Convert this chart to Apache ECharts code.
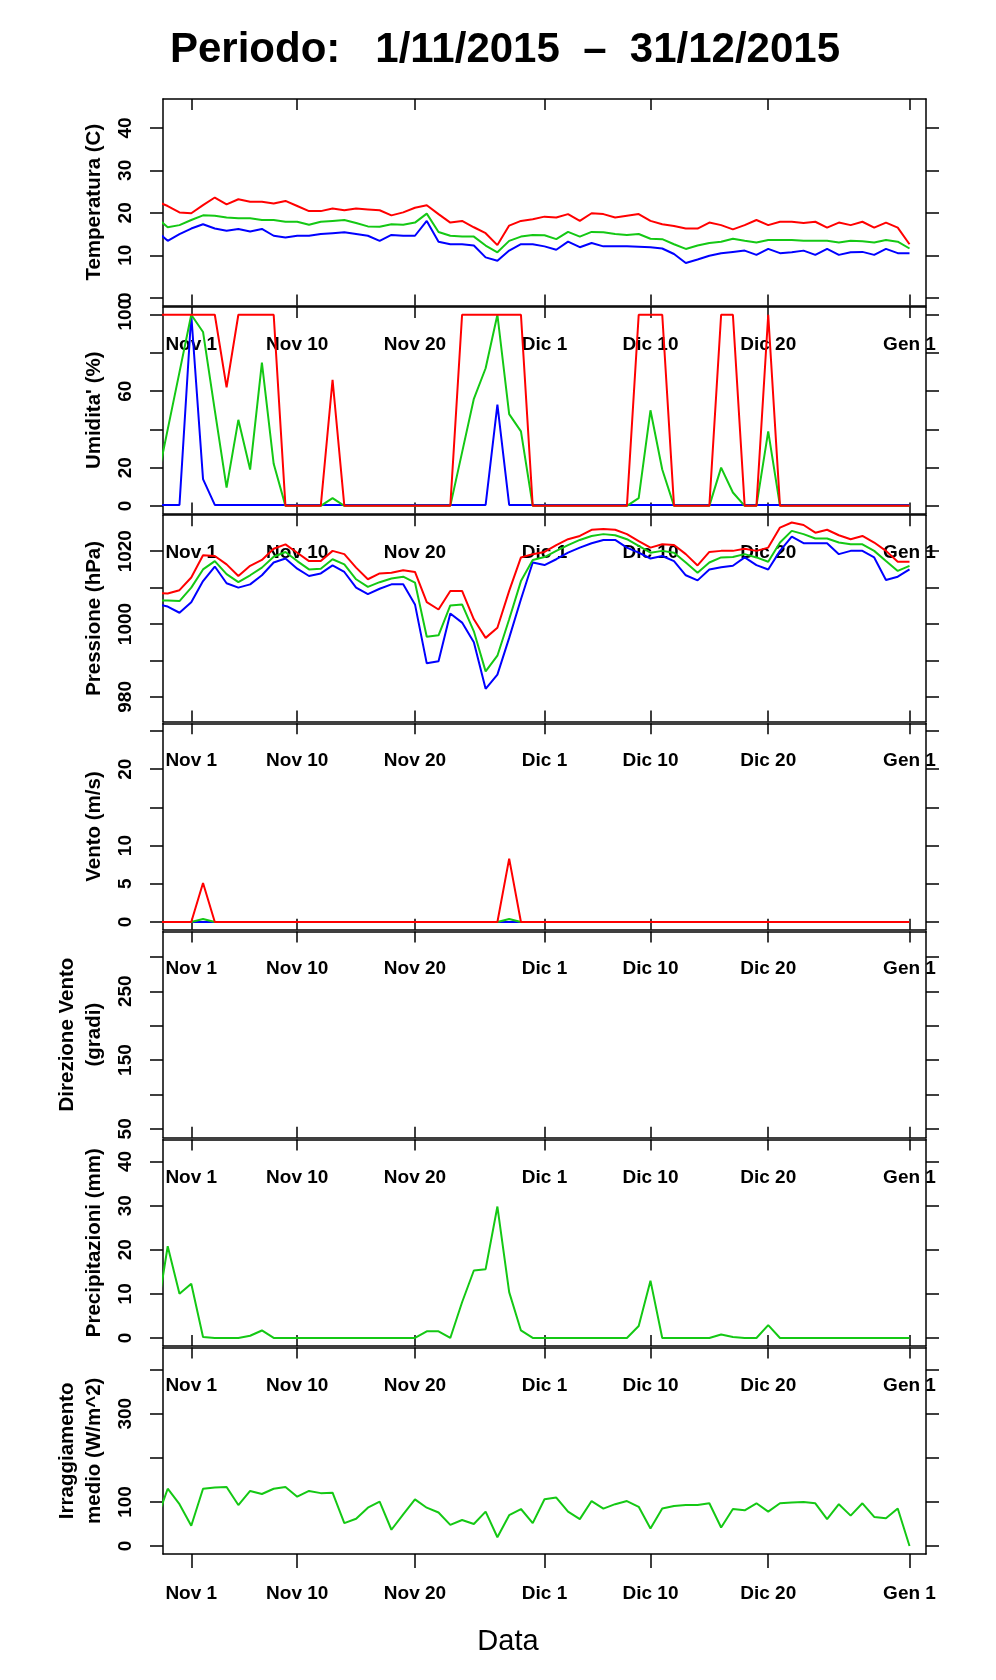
<!DOCTYPE html>
<html lang="it">
<head>
<meta charset="UTF-8">
<title>Periodo 1/11/2015 - 31/12/2015</title>
<script src="https://cdn.jsdelivr.net/npm/echarts@6/dist/echarts.min.js"></script>
<style>
  html, body { margin: 0; padding: 0; background: #fff; }
  #main { width: 996px; height: 1680px; }
</style>
</head>
<body>
<div id="main"></div>
<script>
// giorni contati da Nov 1 (= 0); la serie parte da Oct 29 (= -3) e finisce a Gen 1 (= 61)
var firstDay = -3;
var tickDays = [0, 9, 19, 30, 39, 49, 61];
var tickLabels = ['Nov 1', 'Nov 10', 'Nov 20', 'Dic 1', 'Dic 10', 'Dic 20', 'Gen 1'];

// temperatura (C)
var tempMax = [22.8, 21.6, 20.1, 19.9, 21.8, 23.6, 22.0, 23.2, 22.6, 22.6, 22.2, 22.8, 21.6, 20.4, 20.4, 21.0,
  20.6, 21.0, 20.8, 20.6, 19.4, 20.1, 21.2, 21.8, 19.7, 17.7, 18.1, 16.6, 15.2, 12.4, 17.0, 18.1, 18.5,
  19.1, 18.9, 19.7, 18.1, 19.9, 19.7, 18.9, 19.3, 19.7, 18.1, 17.3, 16.9, 16.3, 16.3, 17.7, 17.1, 16.1,
  17.1, 18.3, 17.1, 17.9, 17.9, 17.6, 17.9, 16.5, 17.7, 17.1, 17.9, 16.5, 17.7, 16.5, 12.6];
var tempMed = [19.0, 16.6, 17.1, 18.3, 19.4, 19.3, 18.9, 18.7, 18.7, 18.3, 18.3, 17.9, 17.9, 17.2, 17.9, 18.1,
  18.3, 17.6, 16.8, 16.7, 17.3, 17.2, 17.7, 19.8, 15.5, 14.6, 14.4, 14.4, 12.3, 10.7, 13.4, 14.4, 14.8,
  14.7, 13.8, 15.5, 14.4, 15.5, 15.4, 15.0, 14.8, 15.0, 13.9, 13.8, 12.6, 11.5, 12.3, 12.9, 13.2, 13.9,
  13.4, 13.0, 13.6, 13.6, 13.6, 13.4, 13.4, 13.4, 13.0, 13.4, 13.3, 13.0, 13.6, 13.2, 11.6];
var tempMin = [15.8, 13.4, 15.0, 16.3, 17.3, 16.3, 15.8, 16.2, 15.6, 16.2, 14.6, 14.2, 14.6, 14.6, 15.0, 15.2,
  15.4, 15.0, 14.6, 13.4, 14.8, 14.6, 14.6, 18.1, 13.2, 12.6, 12.6, 12.3, 9.5, 8.7, 11.1, 12.6, 12.6,
  12.1, 11.3, 13.2, 11.9, 12.9, 12.1, 12.1, 12.1, 12.0, 11.9, 11.6, 10.3, 8.2, 9.0, 9.9, 10.5, 10.8,
  11.1, 10.1, 11.5, 10.5, 10.7, 11.1, 10.1, 11.5, 10.1, 10.7, 10.8, 10.1, 11.5, 10.5, 10.5];

// umidita' (%)
var umidMax = [100, 100, 100, 100, 100, 100, 62, 100, 100, 100, 100, 0, 0, 0, 0, 66,
  0, 0, 0, 0, 0, 0, 0, 0, 0, 0, 100, 100, 100, 100, 100, 100, 0,
  0, 0, 0, 0, 0, 0, 0, 0, 100, 100, 100, 0, 0, 0, 0, 100, 100,
  0, 0, 100, 0, 0, 0, 0, 0, 0, 0, 0, 0, 0, 0, 0];
var umidMed = [10, 40, 70, 100, 91, 50, 9.5, 45, 19, 75, 22, 0, 0, 0, 0, 4,
  0, 0, 0, 0, 0, 0, 0, 0, 0, 0, 28, 56, 72, 100, 48, 39, 0,
  0, 0, 0, 0, 0, 0, 0, 0, 4, 50, 19, 0, 0, 0, 0, 20, 7,
  0, 0, 39, 0, 0, 0, 0, 0, 0, 0, 0, 0, 0, 0, 0];
var umidMin = [0.5, 0.5, 0.5, 100, 14, 0.5, 0.5, 0.5, 0.5, 0.5, 0.5, 0.5, 0.5, 0.5, 0.5, 0.5,
  0.5, 0.5, 0.5, 0.5, 0.5, 0.5, 0.5, 0.5, 0.5, 0.5, 0.5, 0.5, 0.5, 53, 0.5, 0.5, 0.5,
  0.5, 0.5, 0.5, 0.5, 0.5, 0.5, 0.5, 0.5, 0.5, 0.5, 0.5, 0.5, 0.5, 0.5, 0.5, 0.5, 0.5,
  0.5, 0.5, 0.5, 0.5, 0.5, 0.5, 0.5, 0.5, 0.5, 0.5, 0.5, 0.5, 0.5, 0.5, 0.5];

// pressione (hPa)
var pressMax = [1008.5, 1008.4, 1009.3, 1012.8, 1018.9, 1018.7, 1016.4, 1013.2, 1016.0, 1017.6, 1020.7, 1021.9,
  1019.6, 1017.3, 1017.3, 1020.1, 1019.2, 1015.5, 1012.3, 1013.9, 1014.1, 1014.8, 1014.3, 1006.0, 1004.0,
  1009.1, 1009.1, 1001.3, 996.2, 999.0, 1009.1, 1018.3, 1019.2, 1019.8, 1021.7, 1023.3, 1024.2, 1025.9,
  1026.1, 1025.9, 1024.7, 1022.8, 1021.0, 1021.9, 1021.7, 1019.2, 1016.1, 1019.8, 1020.1, 1020.1, 1020.7,
  1020.1, 1021.0, 1026.5, 1027.9, 1027.2, 1025.1, 1025.9, 1024.4, 1023.3, 1024.2, 1022.4, 1020.1, 1017.1, 1017.1];
var pressMed = [1006.5, 1006.5, 1006.3, 1010.0, 1015.0, 1017.3, 1013.7, 1011.5, 1013.4, 1015.5, 1018.5, 1019.8,
  1017.3, 1015.0, 1015.2, 1017.8, 1016.4, 1012.3, 1010.2, 1011.5, 1012.5, 1013.0, 1011.4, 996.5, 996.9,
  1005.1, 1005.4, 998.0, 987.0, 991.3, 1001.3, 1011.8, 1017.6, 1018.4, 1020.1, 1021.7, 1023.1, 1024.2,
  1024.7, 1024.4, 1023.3, 1021.5, 1019.6, 1020.1, 1019.6, 1016.9, 1014.1, 1016.9, 1018.3, 1018.4, 1019.2,
  1018.3, 1017.1, 1022.4, 1025.6, 1024.7, 1023.5, 1023.5, 1022.4, 1021.9, 1021.9, 1020.1, 1017.3, 1014.6, 1016.0];
var pressMin = [1005.5, 1004.8, 1003.1, 1006.0, 1011.8, 1015.8, 1011.2, 1010.0, 1010.9, 1013.4, 1016.9, 1018.0,
  1015.2, 1013.2, 1013.9, 1016.1, 1014.3, 1010.0, 1008.2, 1009.7, 1010.9, 1010.9, 1005.4, 989.2, 989.8,
  1002.9, 1000.4, 995.0, 982.2, 986.1, 996.2, 1006.8, 1016.9, 1016.2, 1017.8, 1019.6, 1021.0, 1022.2,
  1023.1, 1023.1, 1021.0, 1019.6, 1018.0, 1018.7, 1017.3, 1013.4, 1012.0, 1015.0, 1015.6, 1016.0, 1018.3,
  1016.2, 1015.0, 1020.1, 1024.0, 1022.2, 1022.2, 1022.2, 1019.2, 1020.1, 1020.1, 1018.3, 1012.1, 1013.0, 1015.0];

// vento (m/s)
var ventoMax = [0, 0, 0, 0, 5.1, 0, 0, 0, 0, 0, 0, 0, 0, 0, 0, 0,
  0, 0, 0, 0, 0, 0, 0, 0, 0, 0, 0, 0, 0, 0, 8.3, 0, 0,
  0, 0, 0, 0, 0, 0, 0, 0, 0, 0, 0, 0, 0, 0, 0, 0, 0,
  0, 0, 0, 0, 0, 0, 0, 0, 0, 0, 0, 0, 0, 0, 0];
var ventoMed = [0, 0, 0, 0, 0.4, 0, 0, 0, 0, 0, 0, 0, 0, 0, 0, 0,
  0, 0, 0, 0, 0, 0, 0, 0, 0, 0, 0, 0, 0, 0, 0.4, 0, 0,
  0, 0, 0, 0, 0, 0, 0, 0, 0, 0, 0, 0, 0, 0, 0, 0, 0,
  0, 0, 0, 0, 0, 0, 0, 0, 0, 0, 0, 0, 0, 0, 0];
var ventoMin = [0, 0, 0, 0, 0, 0, 0, 0, 0, 0, 0, 0, 0, 0, 0, 0,
  0, 0, 0, 0, 0, 0, 0, 0, 0, 0, 0, 0, 0, 0, 0, 0, 0,
  0, 0, 0, 0, 0, 0, 0, 0, 0, 0, 0, 0, 0, 0, 0, 0, 0,
  0, 0, 0, 0, 0, 0, 0, 0, 0, 0, 0, 0, 0, 0, 0];

// direzione vento (gradi): nessun dato nel periodo
var dirVento = [];

// precipitazioni (mm)
var pioggia = [4, 20.8, 10.0, 12.3, 0.2, 0, 0, 0, 0.5, 1.7, 0, 0, 0, 0, 0, 0,
  0, 0, 0, 0, 0, 0, 0, 1.5, 1.5, 0, 8.1, 15.3, 15.6, 29.8, 10.4, 1.7, 0,
  0, 0, 0, 0, 0, 0, 0, 0, 2.7, 13.0, 0, 0, 0, 0, 0, 0.8, 0.2,
  0, 0, 2.9, 0, 0, 0, 0, 0, 0, 0, 0, 0, 0, 0, 0];

// irraggiamento medio (W/m^2)
var irragg = [55, 130, 95, 46, 130, 133, 134, 93, 125, 118, 130, 134, 112, 125, 120, 121,
  52, 62, 87, 101, 37, 72, 106, 87, 76, 48, 59, 50, 78, 20, 70, 84, 52,
  106, 110, 78, 61, 102, 85, 95, 102, 89, 40, 85, 91, 93, 93, 97, 42, 84,
  81, 97, 78, 97, 99, 100, 97, 61, 95, 69, 97, 66, 63, 85, 0];

var RED = '#ff0000', GREEN = '#14c814', BLUE = '#0000ff';
var FONT = '"Liberation Sans", Arial, Helvetica, sans-serif';

var panels = [
  { name: 'Temperatura (C)', min: -1.8, max: 46.8, ticks: [0, 10, 20, 30, 40], labels: [0, 10, 20, 30, 40],
    lines: [[tempMin, BLUE], [tempMed, GREEN], [tempMax, RED]] },
  { name: "Umidita' (%)", min: -4, max: 104, ticks: [0, 20, 40, 60, 80, 100], labels: [0, 20, 60, 100],
    lines: [[umidMin, BLUE], [umidMed, GREEN], [umidMax, RED]] },
  { name: 'Pressione (hPa)', min: 973.2, max: 1029.9, ticks: [980, 990, 1000, 1010, 1020], labels: [980, 1000, 1020],
    lines: [[pressMin, BLUE], [pressMed, GREEN], [pressMax, RED]] },
  { name: 'Vento (m/s)', min: -1, max: 26, ticks: [0, 5, 10, 15, 20, 25], labels: [0, 5, 10, 20],
    lines: [[ventoMin, BLUE], [ventoMed, GREEN], [ventoMax, RED]] },
  { name: 'Direzione Vento\n(gradi)', min: 37, max: 337, ticks: [50, 100, 150, 200, 250, 300], labels: [50, 150, 250],
    lines: [[dirVento, GREEN]] },
  { name: 'Precipitazioni (mm)', min: -1.8, max: 45, ticks: [0, 10, 20, 30, 40], labels: [0, 10, 20, 30, 40],
    lines: [[pioggia, GREEN]] },
  { name: 'Irraggiamento\nmedio (W/m^2)', min: -18, max: 450, ticks: [0, 100, 200, 300, 400], labels: [0, 100, 300],
    lines: [[irragg, GREEN]] }
];

var axisLine = { show: true, onZero: false, lineStyle: { color: '#000', width: 1.5 } };
var tickStyle = { color: '#000', width: 1.5 };

var grids = [], xAxes = [], yAxes = [], series = [];
var top0 = 99, step = 208.1, h = 206.4;

panels.forEach(function (p, i) {
  var last = i === panels.length - 1;
  grids.push({ left: 163, right: 70, top: top0 + i * step, height: h });

  // asse x in basso (con etichette) e in alto (solo tacche)
  xAxes.push({
    gridIndex: i, type: 'value', position: 'bottom', min: -2.4, max: 62.4,
    axisLine: axisLine,
    axisTick: { show: true, inside: !last, length: last ? 14 : 11, customValues: tickDays, lineStyle: tickStyle },
    axisLabel: {
      show: true, customValues: tickDays, margin: 30,
      formatter: function (v) { return tickLabels[tickDays.indexOf(v)]; },
      color: '#000', fontSize: 19, fontWeight: 'bold', fontFamily: FONT
    },
    splitLine: { show: false }
  });
  xAxes.push({
    gridIndex: i, type: 'value', position: 'top', min: -2.4, max: 62.4,
    axisLine: axisLine,
    axisTick: { show: true, inside: true, length: 11, customValues: tickDays, lineStyle: tickStyle },
    axisLabel: { show: false },
    splitLine: { show: false }
  });

  yAxes.push({
    gridIndex: i, type: 'value', position: 'left', min: p.min, max: p.max,
    name: p.name, nameLocation: 'middle', nameGap: 50, nameRotate: 90,
    nameTextStyle: { color: '#000', fontSize: 20.5, fontWeight: 'bold', fontFamily: FONT, lineHeight: 27 },
    axisLine: axisLine,
    axisTick: { show: true, length: 13, customValues: p.ticks, lineStyle: tickStyle },
    axisLabel: {
      show: true, customValues: p.labels, rotate: 90, margin: 28,
      formatter: function (v) { return String(v); },
      color: '#000', fontSize: 19, fontWeight: 'bold', fontFamily: FONT
    },
    splitLine: { show: false }
  });
  yAxes.push({
    gridIndex: i, type: 'value', position: 'right', min: p.min, max: p.max,
    axisLine: axisLine,
    axisTick: { show: true, length: 13, customValues: p.ticks, lineStyle: tickStyle },
    axisLabel: { show: false },
    splitLine: { show: false }
  });

  p.lines.forEach(function (l) {
    series.push({
      type: 'line', xAxisIndex: i * 2, yAxisIndex: i * 2,
      data: l[0].map(function (v, k) { return [firstDay + k, v]; }),
      showSymbol: false, clip: true, silent: true,
      lineStyle: { color: l[1], width: 2 }, itemStyle: { color: l[1] }
    });
  });
});

var chart = echarts.init(document.getElementById('main'), null, { renderer: 'canvas' });
chart.setOption({
  animation: false,
  backgroundColor: '#fff',
  grid: grids,
  xAxis: xAxes,
  yAxis: yAxes,
  series: series,
  graphic: [
    { type: 'text', x: 505, y: 50,
      style: { text: 'Periodo:   1/11/2015  \u2013  31/12/2015', fill: '#000',
               font: 'bold 42px ' + FONT, align: 'center', verticalAlign: 'middle' } },
    { type: 'text', x: 508, y: 1642,
      style: { text: 'Data', fill: '#000', font: '29px ' + FONT, align: 'center', verticalAlign: 'middle' } }
  ]
});
</script>
</body>
</html>
